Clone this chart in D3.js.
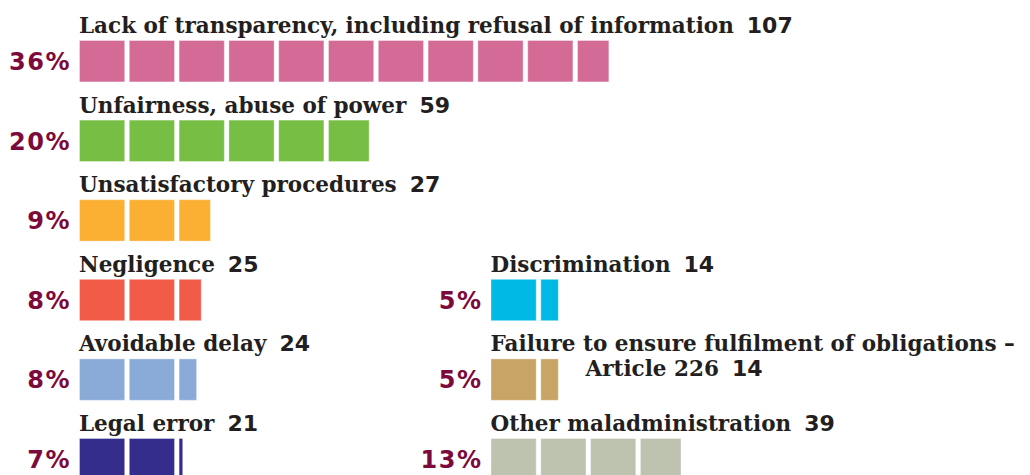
<!DOCTYPE html>
<html>
<head>
<meta charset="utf-8">
<script src="https://cdn.jsdelivr.net/npm/d3@7"></script>
<style>
  body { margin: 0; background: #fff; }
  svg { display: block; }
</style>
</head>
<body>
<div id="chart"></div>
<script>
// Complaint categories
const categories = [
  ['Lack of transparency, including refusal of information'],
  ['Unfairness, abuse of power'],
  ['Unsatisfactory procedures'],
  ['Negligence'],
  ['Avoidable delay'],
  ['Legal error'],
  ['Discrimination'],
  ['Failure to ensure fulfilment of obligations –', 'Article 226'],
  ['Other maladministration']
];
const counts = [107, 59, 27, 25, 24, 21, 14, 14, 39];
const percents = ['36%', '20%', '9%', '8%', '8%', '7%', '5%', '5%', '13%'];
const colours = ['#d36b96', '#76be44', '#fbb034', '#f15b48', '#8aaad8', '#352d8b', '#00bae6', '#c8a466', '#bec3b0'];

const width = 1030, height = 475;
const unitsPerBlock = 10;

const svg = d3.select('#chart')
  .append('svg')
  .attr('width', width)
  .attr('height', height);

// one block = 10 complaints
const x = d3.scaleLinear().domain([0, unitsPerBlock]).range([0, 49.8]);
const blockW = x(unitsPerBlock) - 3.6;

const rowY = d3.scaleLinear().domain([0, 1]).range([40, 119.6]);
const colX = [79, 490.5];
const barH = 42.4;

const items = categories.map((lines, i) => ({
  lines,
  count: counts[i],
  pct: percents[i],
  colour: colours[i],
  col: i < 6 ? 0 : 1,
  row: i < 6 ? i : i - 3
}));

const g = svg.selectAll('g.item')
  .data(items)
  .enter()
  .append('g')
  .attr('class', 'item')
  .attr('transform', (d) => `translate(${colX[d.col]}, ${rowY(d.row)})`);

// blocks
g.each(function (d) {
  const n = Math.ceil(d.count / unitsPerBlock);
  const blocks = d3.range(n).map((k) => ({
    k,
    units: Math.min(unitsPerBlock, d.count - k * unitsPerBlock)
  }));
  d3.select(this).selectAll('rect')
    .data(blocks)
    .enter()
    .append('rect')
    .attr('x', (b) => x(b.k * unitsPerBlock) + 0.5)
    .attr('y', 0.5)
    .attr('width', (b) => Math.max(1.5, blockW * b.units / unitsPerBlock - 1))
    .attr('height', barH - 1)
    .attr('fill', d.colour)
    .attr('stroke', 'rgba(255,255,255,0.35)')
    .attr('stroke-width', 1);
});

// percentages
g.append('text')
  .attr('x', -8)
  .attr('y', 30)
  .attr('text-anchor', 'end')
  .style('font-family', '"DejaVu Sans", sans-serif')
  .style('font-weight', 'bold')
  .style('font-size', '24px')
  .style('letter-spacing', '1.5px')
  .style('fill', '#7c0b3b')
  .text((d) => d.pct);

// category labels with counts
const label = g.append('text')
  .attr('y', -7)
  .style('font-family', '"DejaVu Serif", serif')
  .style('font-weight', 'bold')
  .style('font-size', '21.5px')
  .style('fill', '#231f20');

label.each(function (d) {
  const t = d3.select(this);
  d.lines.forEach((line, li) => {
    const ts = t.append('tspan').text(line);
    if (li > 0) ts.attr('x', 95).attr('dy', 25);
  });
  t.append('tspan')
    .attr('dx', 13)
    .style('font-family', '"DejaVu Sans", sans-serif')
    .style('font-size', '22px')
    .text(d.count);
});
</script>
</body>
</html>
